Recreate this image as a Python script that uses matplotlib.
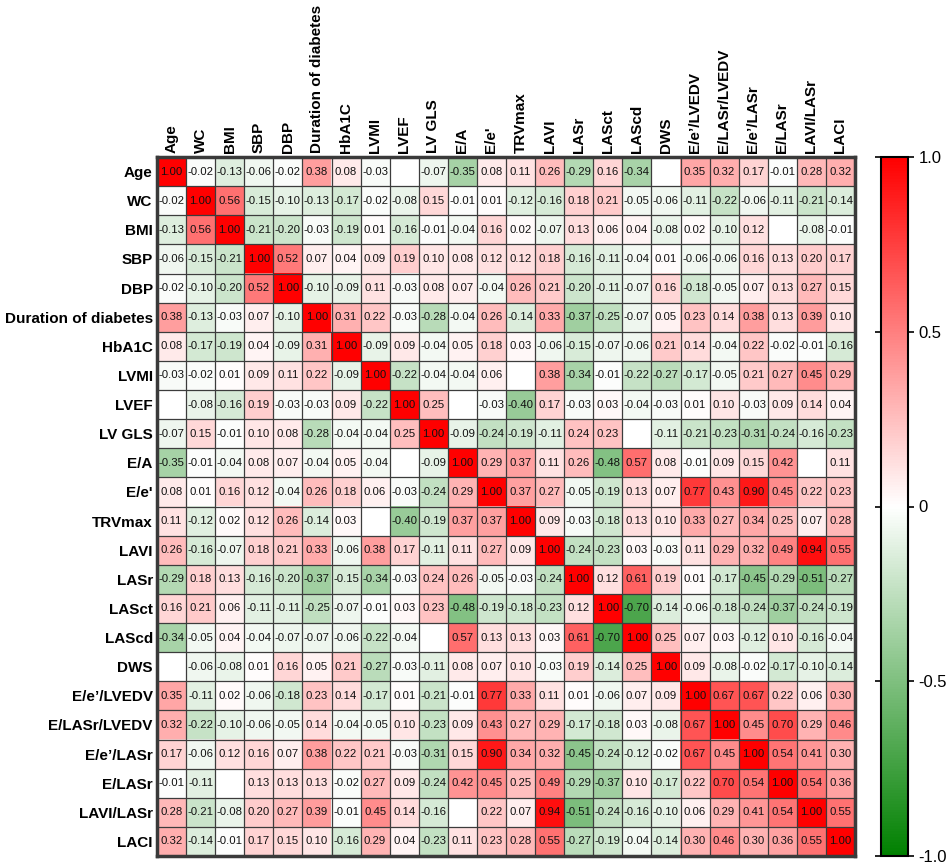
import matplotlib.pyplot as plt
import numpy as np
from matplotlib.colors import LinearSegmentedColormap

plt.rcParams['font.family'] = ['Liberation Sans', 'DejaVu Sans']

nan = np.nan

labels = ['Age', 'WC', 'BMI', 'SBP', 'DBP', 'Duration of diabetes', 'HbA1C',
          'LVMI', 'LVEF', 'LV GLS', 'E/A', "E/e'", 'TRVmax', 'LAVI', 'LASr',
          'LASct', 'LAScd', 'DWS', 'E/e’/LVEDV', 'E/LASr/LVEDV', 'E/e’/LASr',
          'E/LASr', 'LAVI/LASr', 'LACI']

# one list per row, blank cells = nan
r_age = [1.00, -0.02, -0.13, -0.06, -0.02, 0.38, 0.08, -0.03, nan, -0.07, -0.35, 0.08, 0.11, 0.26, -0.29, 0.16, -0.34, nan, 0.35, 0.32, 0.17, -0.01, 0.28, 0.32]
r_wc = [-0.02, 1.00, 0.56, -0.15, -0.10, -0.13, -0.17, -0.02, -0.08, 0.15, -0.01, 0.01, -0.12, -0.16, 0.18, 0.21, -0.05, -0.06, -0.11, -0.22, -0.06, -0.11, -0.21, -0.14]
r_bmi = [-0.13, 0.56, 1.00, -0.21, -0.20, -0.03, -0.19, 0.01, -0.16, -0.01, -0.04, 0.16, 0.02, -0.07, 0.13, 0.06, 0.04, -0.08, 0.02, -0.10, 0.12, nan, -0.08, -0.01]
r_sbp = [-0.06, -0.15, -0.21, 1.00, 0.52, 0.07, 0.04, 0.09, 0.19, 0.10, 0.08, 0.12, 0.12, 0.18, -0.16, -0.11, -0.04, 0.01, -0.06, -0.06, 0.16, 0.13, 0.20, 0.17]
r_dbp = [-0.02, -0.10, -0.20, 0.52, 1.00, -0.10, -0.09, 0.11, -0.03, 0.08, 0.07, -0.04, 0.26, 0.21, -0.20, -0.11, -0.07, 0.16, -0.18, -0.05, 0.07, 0.13, 0.27, 0.15]
r_dur = [0.38, -0.13, -0.03, 0.07, -0.10, 1.00, 0.31, 0.22, -0.03, -0.28, -0.04, 0.26, -0.14, 0.33, -0.37, -0.25, -0.07, 0.05, 0.23, 0.14, 0.38, 0.13, 0.39, 0.10]
r_hba1c = [0.08, -0.17, -0.19, 0.04, -0.09, 0.31, 1.00, -0.09, 0.09, -0.04, 0.05, 0.18, 0.03, -0.06, -0.15, -0.07, -0.06, 0.21, 0.14, -0.04, 0.22, -0.02, -0.01, -0.16]
r_lvmi = [-0.03, -0.02, 0.01, 0.09, 0.11, 0.22, -0.09, 1.00, -0.22, -0.04, -0.04, 0.06, nan, 0.38, -0.34, -0.01, -0.22, -0.27, -0.17, -0.05, 0.21, 0.27, 0.45, 0.29]
r_lvef = [nan, -0.08, -0.16, 0.19, -0.03, -0.03, 0.09, -0.22, 1.00, 0.25, nan, -0.03, -0.40, 0.17, -0.03, 0.03, -0.04, -0.03, 0.01, 0.10, -0.03, 0.09, 0.14, 0.04]
r_lvgls = [-0.07, 0.15, -0.01, 0.10, 0.08, -0.28, -0.04, -0.04, 0.25, 1.00, -0.09, -0.24, -0.19, -0.11, 0.24, 0.23, nan, -0.11, -0.21, -0.23, -0.31, -0.24, -0.16, -0.23]
r_ea = [-0.35, -0.01, -0.04, 0.08, 0.07, -0.04, 0.05, -0.04, nan, -0.09, 1.00, 0.29, 0.37, 0.11, 0.26, -0.48, 0.57, 0.08, -0.01, 0.09, 0.15, 0.42, nan, 0.11]
r_ee = [0.08, 0.01, 0.16, 0.12, -0.04, 0.26, 0.18, 0.06, -0.03, -0.24, 0.29, 1.00, 0.37, 0.27, -0.05, -0.19, 0.13, 0.07, 0.77, 0.43, 0.90, 0.45, 0.22, 0.23]
r_trv = [0.11, -0.12, 0.02, 0.12, 0.26, -0.14, 0.03, nan, -0.40, -0.19, 0.37, 0.37, 1.00, 0.09, -0.03, -0.18, 0.13, 0.10, 0.33, 0.27, 0.34, 0.25, 0.07, 0.28]
r_lavi = [0.26, -0.16, -0.07, 0.18, 0.21, 0.33, -0.06, 0.38, 0.17, -0.11, 0.11, 0.27, 0.09, 1.00, -0.24, -0.23, 0.03, -0.03, 0.11, 0.29, 0.32, 0.49, 0.94, 0.55]
r_lasr = [-0.29, 0.18, 0.13, -0.16, -0.20, -0.37, -0.15, -0.34, -0.03, 0.24, 0.26, -0.05, -0.03, -0.24, 1.00, 0.12, 0.61, 0.19, 0.01, -0.17, -0.45, -0.29, -0.51, -0.27]
r_lasct = [0.16, 0.21, 0.06, -0.11, -0.11, -0.25, -0.07, -0.01, 0.03, 0.23, -0.48, -0.19, -0.18, -0.23, 0.12, 1.00, -0.70, -0.14, -0.06, -0.18, -0.24, -0.37, -0.24, -0.19]
r_lascd = [-0.34, -0.05, 0.04, -0.04, -0.07, -0.07, -0.06, -0.22, -0.04, nan, 0.57, 0.13, 0.13, 0.03, 0.61, -0.70, 1.00, 0.25, 0.07, 0.03, -0.12, 0.10, -0.16, -0.04]
r_dws = [nan, -0.06, -0.08, 0.01, 0.16, 0.05, 0.21, -0.27, -0.03, -0.11, 0.08, 0.07, 0.10, -0.03, 0.19, -0.14, 0.25, 1.00, 0.09, -0.08, -0.02, -0.17, -0.10, -0.14]
r_ee_lvedv = [0.35, -0.11, 0.02, -0.06, -0.18, 0.23, 0.14, -0.17, 0.01, -0.21, -0.01, 0.77, 0.33, 0.11, 0.01, -0.06, 0.07, 0.09, 1.00, 0.67, 0.67, 0.22, 0.06, 0.30]
r_elasr_lvedv = [0.32, -0.22, -0.10, -0.06, -0.05, 0.14, -0.04, -0.05, 0.10, -0.23, 0.09, 0.43, 0.27, 0.29, -0.17, -0.18, 0.03, -0.08, 0.67, 1.00, 0.45, 0.70, 0.29, 0.46]
r_ee_lasr = [0.17, -0.06, 0.12, 0.16, 0.07, 0.38, 0.22, 0.21, -0.03, -0.31, 0.15, 0.90, 0.34, 0.32, -0.45, -0.24, -0.12, -0.02, 0.67, 0.45, 1.00, 0.54, 0.41, 0.30]
r_elasr = [-0.01, -0.11, nan, 0.13, 0.13, 0.13, -0.02, 0.27, 0.09, -0.24, 0.42, 0.45, 0.25, 0.49, -0.29, -0.37, 0.10, -0.17, 0.22, 0.70, 0.54, 1.00, 0.54, 0.36]
r_lavi_lasr = [0.28, -0.21, -0.08, 0.20, 0.27, 0.39, -0.01, 0.45, 0.14, -0.16, nan, 0.22, 0.07, 0.94, -0.51, -0.24, -0.16, -0.10, 0.06, 0.29, 0.41, 0.54, 1.00, 0.55]
r_laci = [0.32, -0.14, -0.01, 0.17, 0.15, 0.10, -0.16, 0.29, 0.04, -0.23, 0.11, 0.23, 0.28, 0.55, -0.27, -0.19, -0.04, -0.14, 0.30, 0.46, 0.30, 0.36, 0.55, 1.00]

corr = np.array([r_age, r_wc, r_bmi, r_sbp, r_dbp, r_dur, r_hba1c, r_lvmi,
                 r_lvef, r_lvgls, r_ea, r_ee, r_trv, r_lavi, r_lasr, r_lasct,
                 r_lascd, r_dws, r_ee_lvedv, r_elasr_lvedv, r_ee_lasr, r_elasr,
                 r_lavi_lasr, r_laci])
n = len(labels)

W, H = 948, 865
fig = plt.figure(figsize=(W / 100, H / 100), dpi=100)
ax = fig.add_axes([157 / W, 9 / H, 698 / W, 699 / H])

cmap = LinearSegmentedColormap.from_list('gwr', ['#008000', '#ffffff', '#ff0000'])
cmap.set_bad('white')
im = ax.imshow(np.ma.masked_invalid(corr), cmap=cmap, vmin=-1, vmax=1, aspect='auto')

for i in range(n):
    for j in range(n):
        v = corr[i, j]
        if not np.isnan(v):
            ax.text(j, i, f'{v:.2f}', ha='center', va='center', fontsize=8.2,
                    color='#111111')

ax.set_xticks(range(n))
ax.set_xticklabels(labels, rotation=90, fontweight='bold', fontsize=11)
ax.xaxis.tick_top()
ax.set_yticks(range(n))
ax.set_yticklabels(labels, fontweight='bold', fontsize=11)
ax.tick_params(length=0, pad=3)

# cell borders
ax.set_xticks(np.arange(-0.5, n), minor=True)
ax.set_yticks(np.arange(-0.5, n), minor=True)
ax.grid(which='minor', color='#3c3c3c', linewidth=0.9)
ax.tick_params(which='minor', length=0)
for s in ax.spines.values():
    s.set_linewidth(2.5)
    s.set_color('#3a3a3a')

# colour bar
cax = fig.add_axes([881 / W, 9 / H, 27 / W, 699 / H])
cb = fig.colorbar(im, cax=cax, ticks=[-1, -0.5, 0, 0.5, 1])
cb.ax.set_yticklabels(['-1.0', '-0.5', '0', '0.5', '1.0'])
cb.ax.tick_params(left=True, right=True, direction='out', length=4, width=1.2,
                  labelsize=12)
cb.outline.set_linewidth(1.5)

plt.savefig('out.png', dpi=100)
